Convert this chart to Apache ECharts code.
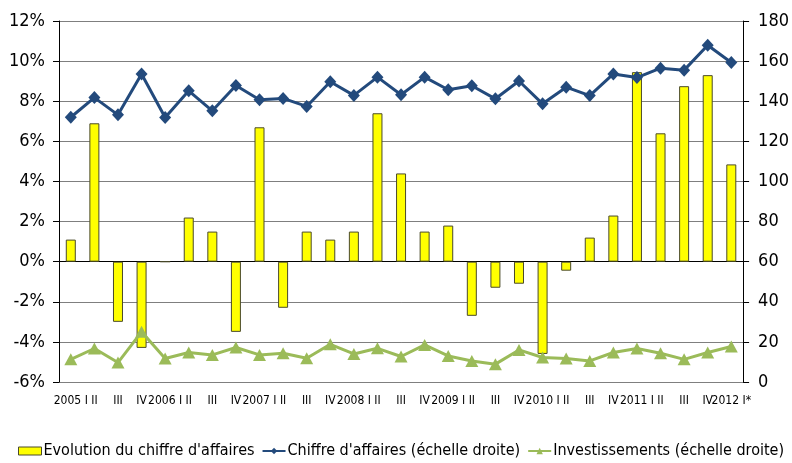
<!DOCTYPE html>
<html>
<head>
<meta charset="utf-8">
<script src="https://cdn.jsdelivr.net/npm/echarts@6/dist/echarts.min.js"></script>
<style>
  html, body { margin: 0; padding: 0; background: #fff; }
  #chart { width: 792px; height: 463px; }
</style>
</head>
<body>
<div id="chart"></div>
<script>
  // trimestres 2005 I -> 2012 I*
  var quarters = [
    '2005 I', 'II', 'III', 'IV',
    '2006 I', 'II', 'III', 'IV',
    '2007 I', 'II', 'III', 'IV',
    '2008 I', 'II', 'III', 'IV',
    '2009 I', 'II', 'III', 'IV',
    '2010 I', 'II', 'III', 'IV',
    '2011 I', 'II', 'III', 'IV',
    '2012 I*'
  ];
  // evolution du CA (%)
  var evolution = [1.1, 6.9, -3.0, -4.3, 0, 2.2, 1.5, -3.5, 6.7, -2.3, 1.5, 1.1, 1.5, 7.4, 4.4,
    1.5, 1.8, -2.7, -1.3, -1.1, -4.6, -0.45, 1.2, 2.3, 9.45, 6.4, 8.75, 9.3, 4.85];
  // chiffre d'affaires (échelle droite)
  var chiffre = [132, 141.8, 133.2, 153.6, 131.9, 145.2, 135.2, 147.8, 140.7, 141.4, 137.4, 149.7, 142.9, 152, 143.2,
    152, 145.7, 147.7, 141.2, 150.1, 138.7, 147, 142.8, 153.6, 151.8, 156.5, 155.5, 167.9, 159.3];
  // investissements (échelle droite)
  var invest = [11.3, 16.7, 9.7, 25, 11.7, 14.7, 13.5, 17.2, 13.5, 14.3, 11.8, 18.8, 14, 16.8, 12.7,
    18.5, 13, 10.5, 8.9, 16, 12.2, 11.7, 10.5, 14.7, 16.7, 14.3, 11.3, 14.7, 17.7];

  var font = '"Liberation Sans Narrow", "DejaVu Sans Condensed", "Liberation Sans", sans-serif';

  var chart = echarts.init(document.getElementById('chart'));
  var option = {
    animation: false,
    textStyle: { fontFamily: font },
    grid: { left: 59, right: 46, top: 21, bottom: 81 },
    legend: {
      left: 18,
      top: 443,
      padding: 0,
      itemWidth: 23,
      itemHeight: 8,
      itemGap: 7,
      textStyle: { fontFamily: font, fontSize: 16, color: '#000', padding: [0, 0, 0, -3] },
      data: [
        { name: "Evolution du chiffre d'affaires", icon: 'rect', itemStyle: { color: '#FFFF00', borderColor: '#4a4a2a', borderWidth: 1 } },
        { name: "Chiffre d'affaires (échelle droite)" },
        { name: 'Investissements (échelle droite)' }
      ]
    },
    xAxis: [
      {
        type: 'category',
        data: quarters,
        position: 'bottom',
        axisLine: { show: false, onZero: false },
        axisTick: { show: false },
        axisLabel: { interval: 0, fontSize: 12, color: '#000', margin: 13, fontFamily: font }
      },
      {
        type: 'category',
        data: quarters,
        position: 'bottom',
        axisLine: { onZero: true, onZeroAxisIndex: 0, lineStyle: { color: '#000', width: 1 } },
        axisTick: { interval: 0, length: 4, lineStyle: { color: '#000' } },
        axisLabel: { show: false }
      },
      {
        type: 'category',
        data: quarters,
        position: 'top',
        axisLine: { onZero: true, onZeroAxisIndex: 0, lineStyle: { color: '#000', width: 1 } },
        axisTick: { interval: 0, length: 3, lineStyle: { color: '#000' } },
        axisLabel: { show: false }
      }
    ],
    yAxis: [
      {
        type: 'value',
        min: -6, max: 12, interval: 2,
        axisLine: { show: true, lineStyle: { color: '#000' } },
        axisTick: { show: true, length: 6, lineStyle: { color: '#000' } },
        axisLabel: { formatter: '{value}%', fontSize: 18, color: '#000', margin: 14, fontFamily: font },
        splitLine: { show: true, lineStyle: { color: '#7f7f7f', width: 1 } }
      },
      {
        type: 'value',
        min: 0, max: 180, interval: 20,
        position: 'right',
        axisLine: { show: true, lineStyle: { color: '#000' } },
        axisTick: { show: true, length: 6, lineStyle: { color: '#000' } },
        axisLabel: { fontSize: 18, color: '#000', margin: 15, fontFamily: font },
        splitLine: { show: false }
      }
    ],
    series: [
      {
        name: "Evolution du chiffre d'affaires",
        type: 'bar',
        xAxisIndex: 0,
        yAxisIndex: 0,
        barWidth: 10,
        data: evolution,
        itemStyle: { color: '#FFFF00', borderColor: '#4a4a2a', borderWidth: 1 }
      },
      {
        name: "Chiffre d'affaires (échelle droite)",
        type: 'line',
        xAxisIndex: 0,
        yAxisIndex: 1,
        data: chiffre,
        symbol: 'diamond',
        symbolSize: [12, 13],
        lineStyle: { color: '#234a7c', width: 3 },
        itemStyle: { color: '#234a7c' },
        z: 4
      },
      {
        name: 'Investissements (échelle droite)',
        type: 'line',
        xAxisIndex: 0,
        yAxisIndex: 1,
        data: invest,
        symbol: 'triangle',
        symbolSize: [13, 12],
        lineStyle: { color: '#9bbb59', width: 3 },
        itemStyle: { color: '#9bbb59' },
        z: 4
      }
    ]
  };
  chart.setOption(option);
</script>
</body>
</html>
